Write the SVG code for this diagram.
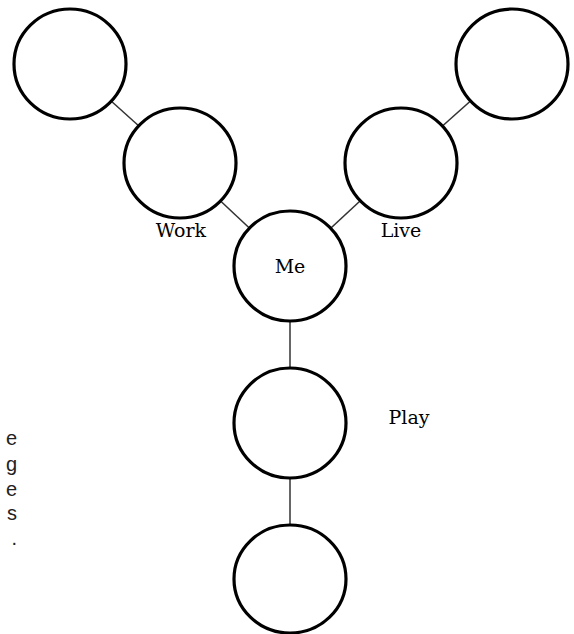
<svg xmlns="http://www.w3.org/2000/svg" width="574" height="634" viewBox="0 0 574 634">
<style>
.node{fill:#fff;stroke:#000;stroke-width:3.2}
.edge{stroke:#333;stroke-width:1.5;fill:none}
.lbl{font-family:"DejaVu Serif","Liberation Serif",serif;font-size:19px;fill:#000}
.side{font-family:"Liberation Sans",Arial,sans-serif;font-size:20px;fill:#222}
</style>
<rect width="574" height="634" fill="#fff"/>
<g id="connectors">
<line class="edge" x1="70" y1="64" x2="180" y2="163"/>
<line class="edge" x1="180" y1="163" x2="290" y2="266"/>
<line class="edge" x1="512" y1="64" x2="401" y2="163"/>
<line class="edge" x1="401" y1="163" x2="290" y2="266"/>
<line class="edge" x1="290" y1="266" x2="290" y2="423"/>
<line class="edge" x1="290" y1="423" x2="290" y2="579"/>
</g>
<g id="n-topleft"><ellipse class="node" cx="70" cy="64" rx="56" ry="55"/></g>
<g id="n-work"><ellipse class="node" cx="180" cy="163" rx="56" ry="55"/><text class="lbl" x="181" y="237" text-anchor="middle">Work</text></g>
<g id="n-topright"><ellipse class="node" cx="512" cy="64" rx="56" ry="55"/></g>
<g id="n-live"><ellipse class="node" cx="401" cy="163" rx="56" ry="55"/><text class="lbl" x="401" y="237" text-anchor="middle">Live</text></g>
<g id="n-me"><ellipse class="node" cx="290" cy="266" rx="56" ry="55"/><text class="lbl" x="290" y="273" text-anchor="middle">Me</text></g>
<g id="n-play"><ellipse class="node" cx="290" cy="423" rx="56" ry="55"/><text class="lbl" x="409" y="424" text-anchor="middle">Play</text></g>
<g id="n-bottom"><ellipse class="node" cx="290" cy="579" rx="56" ry="54"/></g>
<g id="side-text">
<text class="side" x="17" y="445" text-anchor="end">e</text>
<text class="side" x="17" y="471" text-anchor="end">g</text>
<text class="side" x="17" y="496" text-anchor="end">e</text>
<text class="side" x="17" y="520" text-anchor="end">s</text>
<text class="side" x="17" y="545" text-anchor="end">.</text>
</g>
</svg>
